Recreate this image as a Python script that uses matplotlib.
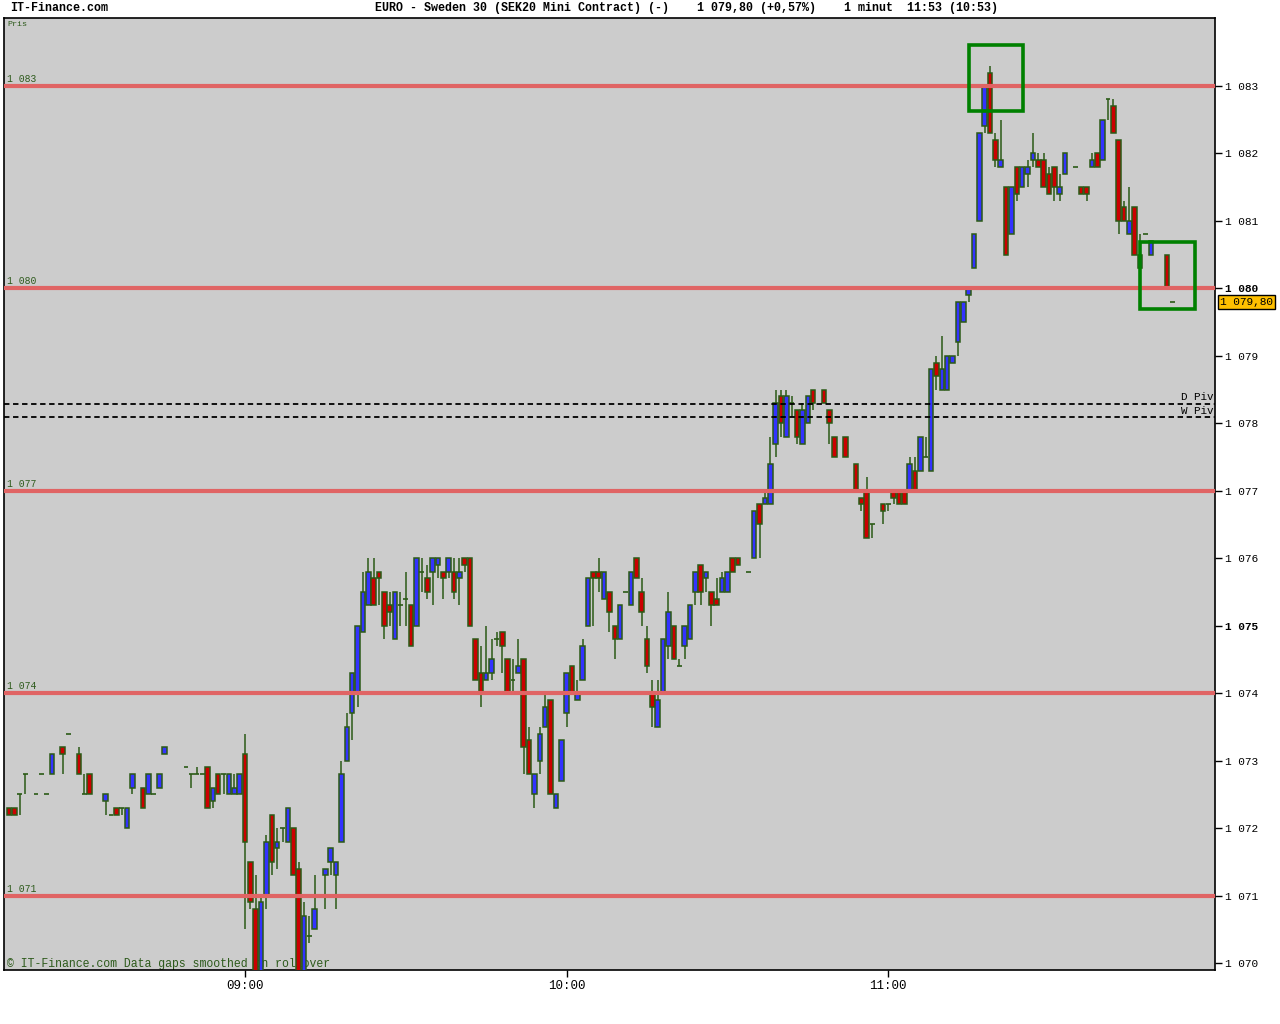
import matplotlib
matplotlib.use("Agg")
import matplotlib.pyplot as plt
from matplotlib.patches import Rectangle
import numpy as np

# 1-minute candles, EURO - Sweden 30 (SEK20 Mini Contract)
times = ["08:16", "08:17", "08:18", "08:19", "08:21", "08:22", "08:23", "08:24", "08:26", "08:27",
         "08:29", "08:30", "08:31", "08:34", "08:35", "08:36", "08:37", "08:38", "08:39", "08:41",
         "08:42", "08:43", "08:44", "08:45", "08:49", "08:50", "08:51", "08:52", "08:53", "08:54",
         "08:55", "08:56", "08:57", "08:58", "08:59", "09:00", "09:01", "09:02", "09:03", "09:04",
         "09:05", "09:06", "09:07", "09:08", "09:09", "09:10", "09:11", "09:12", "09:13", "09:15",
         "09:16", "09:17", "09:18", "09:19", "09:20", "09:21", "09:22", "09:23", "09:24", "09:25",
         "09:26", "09:27", "09:28", "09:29", "09:30", "09:31", "09:32", "09:33", "09:34", "09:35",
         "09:36", "09:37", "09:38", "09:39", "09:40", "09:41", "09:42", "09:43", "09:44", "09:45",
         "09:46", "09:47", "09:48", "09:49", "09:50", "09:51", "09:52", "09:53", "09:54", "09:55",
         "09:56", "09:57", "09:58", "09:59", "10:00", "10:01", "10:02", "10:03", "10:04", "10:05",
         "10:06", "10:07", "10:08", "10:09", "10:10", "10:11", "10:12", "10:13", "10:14", "10:15",
         "10:16", "10:17", "10:18", "10:19", "10:20", "10:21", "10:22", "10:23", "10:24", "10:25",
         "10:26", "10:27", "10:28", "10:29", "10:30", "10:31", "10:32", "10:34", "10:35", "10:36",
         "10:37", "10:38", "10:39", "10:40", "10:41", "10:42", "10:43", "10:44", "10:45", "10:46",
         "10:48", "10:49", "10:50", "10:52", "10:54", "10:55", "10:56", "10:57", "10:59", "11:00",
         "11:01", "11:02", "11:03", "11:04", "11:05", "11:06", "11:07", "11:08", "11:09", "11:10",
         "11:11", "11:12", "11:13", "11:14", "11:15", "11:16", "11:17", "11:18", "11:19", "11:20",
         "11:21", "11:22", "11:23", "11:24", "11:25", "11:26", "11:27", "11:28", "11:29", "11:30",
         "11:31", "11:32", "11:33", "11:35", "11:36", "11:37", "11:38", "11:39", "11:40", "11:41",
         "11:42", "11:43", "11:44", "11:45", "11:46", "11:47", "11:48", "11:49", "11:52", "11:53"]

opens = [1072.3, 1072.3, 1072.5, 1072.8, 1072.5, 1072.8, 1072.5, 1072.8, 1073.2, 1073.4,
         1073.1, 1072.5, 1072.8, 1072.4, 1072.2, 1072.3, 1072.3, 1072.0, 1072.6, 1072.6,
         1072.5, 1072.5, 1072.6, 1073.1, 1072.9, 1072.8, 1072.8, 1072.8, 1072.9, 1072.4,
         1072.8, 1072.8, 1072.5, 1072.5, 1072.5, 1073.1, 1071.5, 1070.8, 1069.7, 1071.0,
         1072.2, 1071.7, 1072.0, 1071.8, 1072.0, 1071.4, 1069.7, 1070.4, 1070.5, 1071.3,
         1071.5, 1071.3, 1071.8, 1073.0, 1073.7, 1074.0, 1074.9, 1075.3, 1075.7, 1075.8,
         1075.5, 1075.3, 1074.8, 1075.3, 1075.4, 1075.3, 1075.0, 1075.8, 1075.7, 1075.8,
         1075.9, 1075.8, 1075.8, 1075.8, 1075.7, 1076.0, 1076.0, 1074.8, 1074.3, 1074.2,
         1074.3, 1074.8, 1074.9, 1074.5, 1074.2, 1074.3, 1074.5, 1073.3, 1072.5, 1073.0,
         1073.5, 1073.9, 1072.3, 1072.7, 1073.7, 1074.4, 1073.9, 1074.2, 1075.0, 1075.8,
         1075.8, 1075.4, 1075.5, 1075.0, 1074.8, 1075.5, 1075.3, 1076.0, 1075.5, 1074.8,
         1074.0, 1073.5, 1074.0, 1074.7, 1075.0, 1074.4, 1074.7, 1074.8, 1075.5, 1075.9,
         1075.7, 1075.5, 1075.4, 1075.5, 1075.5, 1076.0, 1076.0, 1075.8, 1076.0, 1076.8,
         1076.8, 1076.8, 1077.7, 1078.4, 1077.8, 1078.3, 1078.2, 1077.7, 1078.0, 1078.5,
         1078.5, 1078.2, 1077.8, 1077.8, 1077.4, 1076.9, 1077.0, 1076.5, 1076.8, 1076.8,
         1077.0, 1077.0, 1077.0, 1077.0, 1077.3, 1077.3, 1077.5, 1077.3, 1078.9, 1078.5,
         1078.5, 1078.9, 1079.2, 1079.5, 1079.9, 1080.3, 1081.0, 1082.4, 1083.2, 1082.2,
         1081.8, 1081.5, 1080.8, 1081.8, 1081.5, 1081.7, 1081.9, 1081.9, 1081.9, 1081.7,
         1081.8, 1081.4, 1081.7, 1081.8, 1081.5, 1081.5, 1081.8, 1082.0, 1081.9, 1082.8,
         1082.7, 1082.2, 1081.2, 1080.8, 1081.2, 1080.3, 1080.8, 1080.5, 1080.5, 1079.8]

highs = [1072.3, 1072.3, 1072.5, 1072.8, 1072.5, 1072.8, 1072.5, 1073.1, 1073.2, 1073.4,
         1073.2, 1072.8, 1072.8, 1072.5, 1072.2, 1072.3, 1072.3, 1072.3, 1072.8, 1072.6,
         1072.8, 1072.5, 1072.8, 1073.2, 1072.9, 1072.8, 1072.9, 1072.8, 1072.9, 1072.6,
         1072.8, 1072.8, 1072.8, 1072.8, 1072.8, 1073.4, 1071.5, 1071.3, 1071.0, 1071.9,
         1072.2, 1072.0, 1072.0, 1072.3, 1072.0, 1071.5, 1070.9, 1070.7, 1071.3, 1071.4,
         1071.7, 1071.5, 1073.0, 1073.7, 1074.3, 1075.0, 1075.8, 1076.0, 1076.0, 1075.8,
         1075.5, 1075.5, 1075.5, 1075.5, 1075.8, 1075.3, 1076.0, 1076.0, 1075.9, 1076.0,
         1076.0, 1075.8, 1076.0, 1076.0, 1076.0, 1076.0, 1076.0, 1074.8, 1074.7, 1075.0,
         1074.8, 1074.9, 1074.9, 1074.5, 1074.5, 1074.8, 1074.5, 1073.5, 1072.8, 1073.5,
         1074.0, 1073.9, 1072.5, 1073.3, 1074.3, 1074.4, 1074.2, 1074.8, 1075.7, 1075.8,
         1076.0, 1075.8, 1075.5, 1075.0, 1075.3, 1075.5, 1075.8, 1076.0, 1075.7, 1075.0,
         1074.2, 1074.2, 1074.8, 1075.5, 1075.0, 1074.5, 1075.0, 1075.3, 1075.8, 1075.9,
         1075.8, 1075.5, 1075.7, 1075.8, 1075.8, 1076.0, 1076.0, 1075.8, 1076.7, 1076.8,
         1077.0, 1077.8, 1078.5, 1078.5, 1078.5, 1078.4, 1078.2, 1078.3, 1078.4, 1078.5,
         1078.5, 1078.2, 1077.8, 1077.8, 1077.4, 1076.9, 1077.2, 1076.5, 1076.8, 1076.8,
         1077.0, 1077.0, 1077.0, 1077.5, 1077.5, 1077.8, 1077.8, 1078.8, 1079.0, 1079.3,
         1079.0, 1079.0, 1079.8, 1079.8, 1080.0, 1080.8, 1082.3, 1083.0, 1083.3, 1082.3,
         1082.5, 1081.5, 1081.5, 1081.8, 1081.8, 1081.9, 1082.3, 1082.0, 1082.0, 1081.8,
         1081.8, 1081.7, 1082.0, 1081.8, 1081.5, 1081.5, 1082.0, 1082.0, 1082.5, 1082.8,
         1082.8, 1082.2, 1081.3, 1081.5, 1081.2, 1080.8, 1080.8, 1080.7, 1080.5, 1079.8]

lows = [1072.2, 1072.2, 1072.2, 1072.5, 1072.5, 1072.8, 1072.5, 1072.8, 1072.8, 1073.4,
        1072.8, 1072.5, 1072.5, 1072.2, 1072.2, 1072.2, 1072.2, 1072.0, 1072.5, 1072.3,
        1072.5, 1072.5, 1072.6, 1073.1, 1072.9, 1072.6, 1072.8, 1072.8, 1072.3, 1072.3,
        1072.5, 1072.5, 1072.5, 1072.5, 1072.5, 1070.5, 1070.8, 1069.4, 1069.5, 1070.8,
        1071.3, 1071.4, 1071.8, 1071.8, 1071.3, 1069.5, 1069.6, 1070.3, 1070.5, 1070.8,
        1071.3, 1070.8, 1071.8, 1073.0, 1073.3, 1073.8, 1074.9, 1075.3, 1075.3, 1075.3,
        1074.8, 1075.0, 1074.8, 1075.0, 1075.0, 1074.7, 1075.0, 1075.5, 1075.4, 1075.3,
        1075.7, 1075.4, 1075.7, 1075.4, 1075.3, 1075.8, 1075.0, 1074.2, 1073.8, 1074.2,
        1074.2, 1074.7, 1074.3, 1074.0, 1074.0, 1074.3, 1072.8, 1072.8, 1072.3, 1072.8,
        1073.5, 1072.5, 1072.3, 1072.7, 1073.5, 1074.0, 1073.9, 1074.2, 1075.0, 1075.0,
        1075.5, 1075.4, 1074.9, 1074.5, 1074.8, 1075.5, 1075.3, 1075.7, 1075.0, 1074.3,
        1073.5, 1073.5, 1074.0, 1074.5, 1074.5, 1074.4, 1074.5, 1074.8, 1075.3, 1075.3,
        1075.5, 1075.0, 1075.3, 1075.5, 1075.5, 1075.8, 1075.9, 1075.8, 1076.0, 1076.0,
        1076.8, 1076.8, 1077.5, 1077.8, 1077.8, 1078.1, 1077.7, 1077.7, 1078.0, 1078.2,
        1078.3, 1077.7, 1077.5, 1077.5, 1077.0, 1076.7, 1076.3, 1076.3, 1076.5, 1076.7,
        1076.8, 1076.8, 1076.8, 1077.0, 1077.0, 1077.3, 1077.5, 1077.3, 1078.5, 1078.5,
        1078.5, 1078.9, 1079.0, 1079.5, 1079.8, 1080.3, 1081.0, 1082.3, 1082.3, 1081.8,
        1081.8, 1080.5, 1080.8, 1081.3, 1081.5, 1081.5, 1081.8, 1081.8, 1081.5, 1081.4,
        1081.3, 1081.3, 1081.7, 1081.8, 1081.4, 1081.3, 1081.8, 1081.8, 1081.9, 1082.5,
        1082.3, 1080.8, 1081.0, 1080.8, 1080.5, 1080.3, 1080.8, 1080.5, 1080.0, 1079.8]

closes = [1072.2, 1072.2, 1072.5, 1072.8, 1072.5, 1072.8, 1072.5, 1073.1, 1073.1, 1073.4,
          1072.8, 1072.5, 1072.5, 1072.5, 1072.2, 1072.2, 1072.3, 1072.3, 1072.8, 1072.3,
          1072.8, 1072.5, 1072.8, 1073.2, 1072.9, 1072.8, 1072.8, 1072.8, 1072.3, 1072.6,
          1072.5, 1072.8, 1072.8, 1072.6, 1072.8, 1071.8, 1070.9, 1069.6, 1070.9, 1071.8,
          1071.5, 1071.8, 1072.0, 1072.3, 1071.3, 1069.6, 1070.7, 1070.4, 1070.8, 1071.4,
          1071.7, 1071.5, 1072.8, 1073.5, 1074.3, 1075.0, 1075.5, 1075.8, 1075.3, 1075.7,
          1075.0, 1075.2, 1075.5, 1075.3, 1075.4, 1074.7, 1076.0, 1075.8, 1075.5, 1076.0,
          1076.0, 1075.7, 1076.0, 1075.5, 1075.8, 1075.9, 1075.0, 1074.2, 1074.0, 1074.3,
          1074.5, 1074.8, 1074.7, 1074.0, 1074.2, 1074.4, 1073.2, 1072.8, 1072.8, 1073.4,
          1073.8, 1072.5, 1072.5, 1073.3, 1074.3, 1074.0, 1074.0, 1074.7, 1075.7, 1075.7,
          1075.7, 1075.8, 1075.2, 1074.8, 1075.3, 1075.5, 1075.8, 1075.7, 1075.2, 1074.4,
          1073.8, 1073.9, 1074.8, 1075.2, 1074.5, 1074.4, 1075.0, 1075.3, 1075.8, 1075.5,
          1075.8, 1075.3, 1075.3, 1075.7, 1075.8, 1075.8, 1075.9, 1075.8, 1076.7, 1076.5,
          1076.9, 1077.4, 1078.3, 1078.0, 1078.4, 1078.3, 1077.8, 1078.2, 1078.4, 1078.3,
          1078.3, 1078.0, 1077.5, 1077.5, 1077.0, 1076.8, 1076.3, 1076.5, 1076.7, 1076.8,
          1076.9, 1076.8, 1076.8, 1077.4, 1077.0, 1077.8, 1077.5, 1078.8, 1078.7, 1078.8,
          1079.0, 1079.0, 1079.8, 1079.8, 1080.0, 1080.8, 1082.3, 1083.0, 1082.3, 1081.9,
          1081.9, 1080.5, 1081.5, 1081.4, 1081.8, 1081.8, 1082.0, 1081.8, 1081.5, 1081.4,
          1081.5, 1081.5, 1082.0, 1081.8, 1081.4, 1081.4, 1081.9, 1081.8, 1082.5, 1082.8,
          1082.3, 1081.0, 1081.0, 1081.0, 1080.5, 1080.5, 1080.8, 1080.7, 1080.0, 1079.8]

levels = [1071, 1074, 1077, 1080, 1083]
pivots = {"D Piv": 1078.29, "W Piv": 1078.09}
last_price = 1079.80
# highlight boxes: (start minute, end minute, low price, high price), minutes after 08:15
boxes = [(180.1, 190.2, 1082.63, 1083.61), (212.0, 222.2, 1079.69, 1080.69)]
xtick_labels = ["09:00", "10:00", "11:00"]


def minutes(s):
    h, m = s.split(":")
    return (int(h) - 8) * 60 + int(m) - 15


def fmt_price(p):
    return f"{int(p) // 1000} {int(p) % 1000:03d}"


x = np.array([minutes(t) for t in times])
o = np.array(opens)
h = np.array(highs)
l = np.array(lows)
c = np.array(closes)

RED = "#cc0000"
BLUE = "#3333ff"
EDGE = "#2b5a16"
GREEN_TXT = "#2d5a1b"
MONO = "Liberation Mono"

fig = plt.figure(figsize=(12.8, 10.24), dpi=100)
fig.patch.set_facecolor("white")
ax = fig.add_axes([4 / 1280, 1 - 970 / 1024, 1211 / 1280, 952 / 1024])
ax.set_facecolor("#cccccc")
ax.set_xlim(0.04, 225.97)
ax.set_ylim(1069.896, 1084.008)

# footer text sits under the candles
ax.text(0.0025, 0.0, "\u00a9 IT-Finance.com Data gaps smoothed on rollover", transform=ax.transAxes,
        fontsize=8.3, family=MONO, color=GREEN_TXT, ha="left", va="bottom", zorder=1)
ax.text(0.0025, 0.997, "Pris", transform=ax.transAxes, fontsize=6, family=MONO,
        color=GREEN_TXT, ha="left", va="top", zorder=1)

# wicks
ax.vlines(x, l, h, color=EDGE, linewidth=1.1, zorder=2)

# bodies
body = c != o
up = c > o
cols = np.where(up, BLUE, RED)
ax.bar(x[body], (c - o)[body], bottom=o[body], width=0.85, color=cols[body],
       edgecolor=EDGE, linewidth=1.1, zorder=3)
# doji: open == close
doji = ~body
ax.hlines(o[doji], x[doji] - 0.45, x[doji] + 0.45, color=EDGE, linewidth=1.2, zorder=3)

# support / resistance levels
for lv in levels:
    ax.axhline(lv, color="#e06464", linewidth=3, zorder=4)
    ax.text(0.6, lv + 0.03, fmt_price(lv), fontsize=7, family=MONO, color=GREEN_TXT,
            ha="left", va="bottom", zorder=4)

# pivots
for name, pv in pivots.items():
    ax.axhline(pv, color="black", linewidth=1.3, linestyle=(0, (3, 2)), zorder=4)
    ax.text(0.999, pv + 0.02, name, transform=ax.get_yaxis_transform(), fontsize=7.8,
            family=MONO, color="black", ha="right", va="bottom", zorder=4)

for x0, x1, y0, y1 in boxes:
    ax.add_patch(Rectangle((x0, y0), x1 - x0, y1 - y0, fill=False, edgecolor="#008000",
                           linewidth=2.6, zorder=5))

# axes
for s in ax.spines.values():
    s.set_color("black")
    s.set_linewidth(1.2)
ax.yaxis.tick_right()
yt = list(range(1070, 1084))
ax.set_yticks(yt)
ax.set_yticklabels([fmt_price(v) for v in yt], family=MONO, fontsize=8)
for lab, v in zip(ax.get_yticklabels(), yt):
    if v in (1075, 1080):
        lab.set_fontweight("bold")
ax.tick_params(axis="y", length=5, width=1, pad=2, colors="black")
ax.set_xticks([minutes(t) for t in xtick_labels])
ax.set_xticklabels(xtick_labels, family=MONO, fontsize=9)
ax.tick_params(axis="x", length=5, width=1, pad=2)

# last price tag
ax.text(1.004, last_price, "1 079,80", transform=ax.get_yaxis_transform(), fontsize=8,
        family=MONO, color="black", ha="left", va="center",
        bbox=dict(boxstyle="square,pad=0.15", facecolor="#ffc000", edgecolor="black", linewidth=1),
        clip_on=False, zorder=6)

# header
fig.text(10 / 1280, 1 - 8 / 1024, "IT-Finance.com", fontsize=8.4, family=MONO,
         fontweight="bold", ha="left", va="center")
fig.text(375 / 1280, 1 - 8 / 1024,
         "EURO - Sweden 30 (SEK20 Mini Contract) (-)    1 079,80 (+0,57%)    1 minut  11:53 (10:53)",
         fontsize=8.4, family=MONO, fontweight="bold", ha="left", va="center")

fig.savefig("out.png", dpi=100)
plt.close(fig)
